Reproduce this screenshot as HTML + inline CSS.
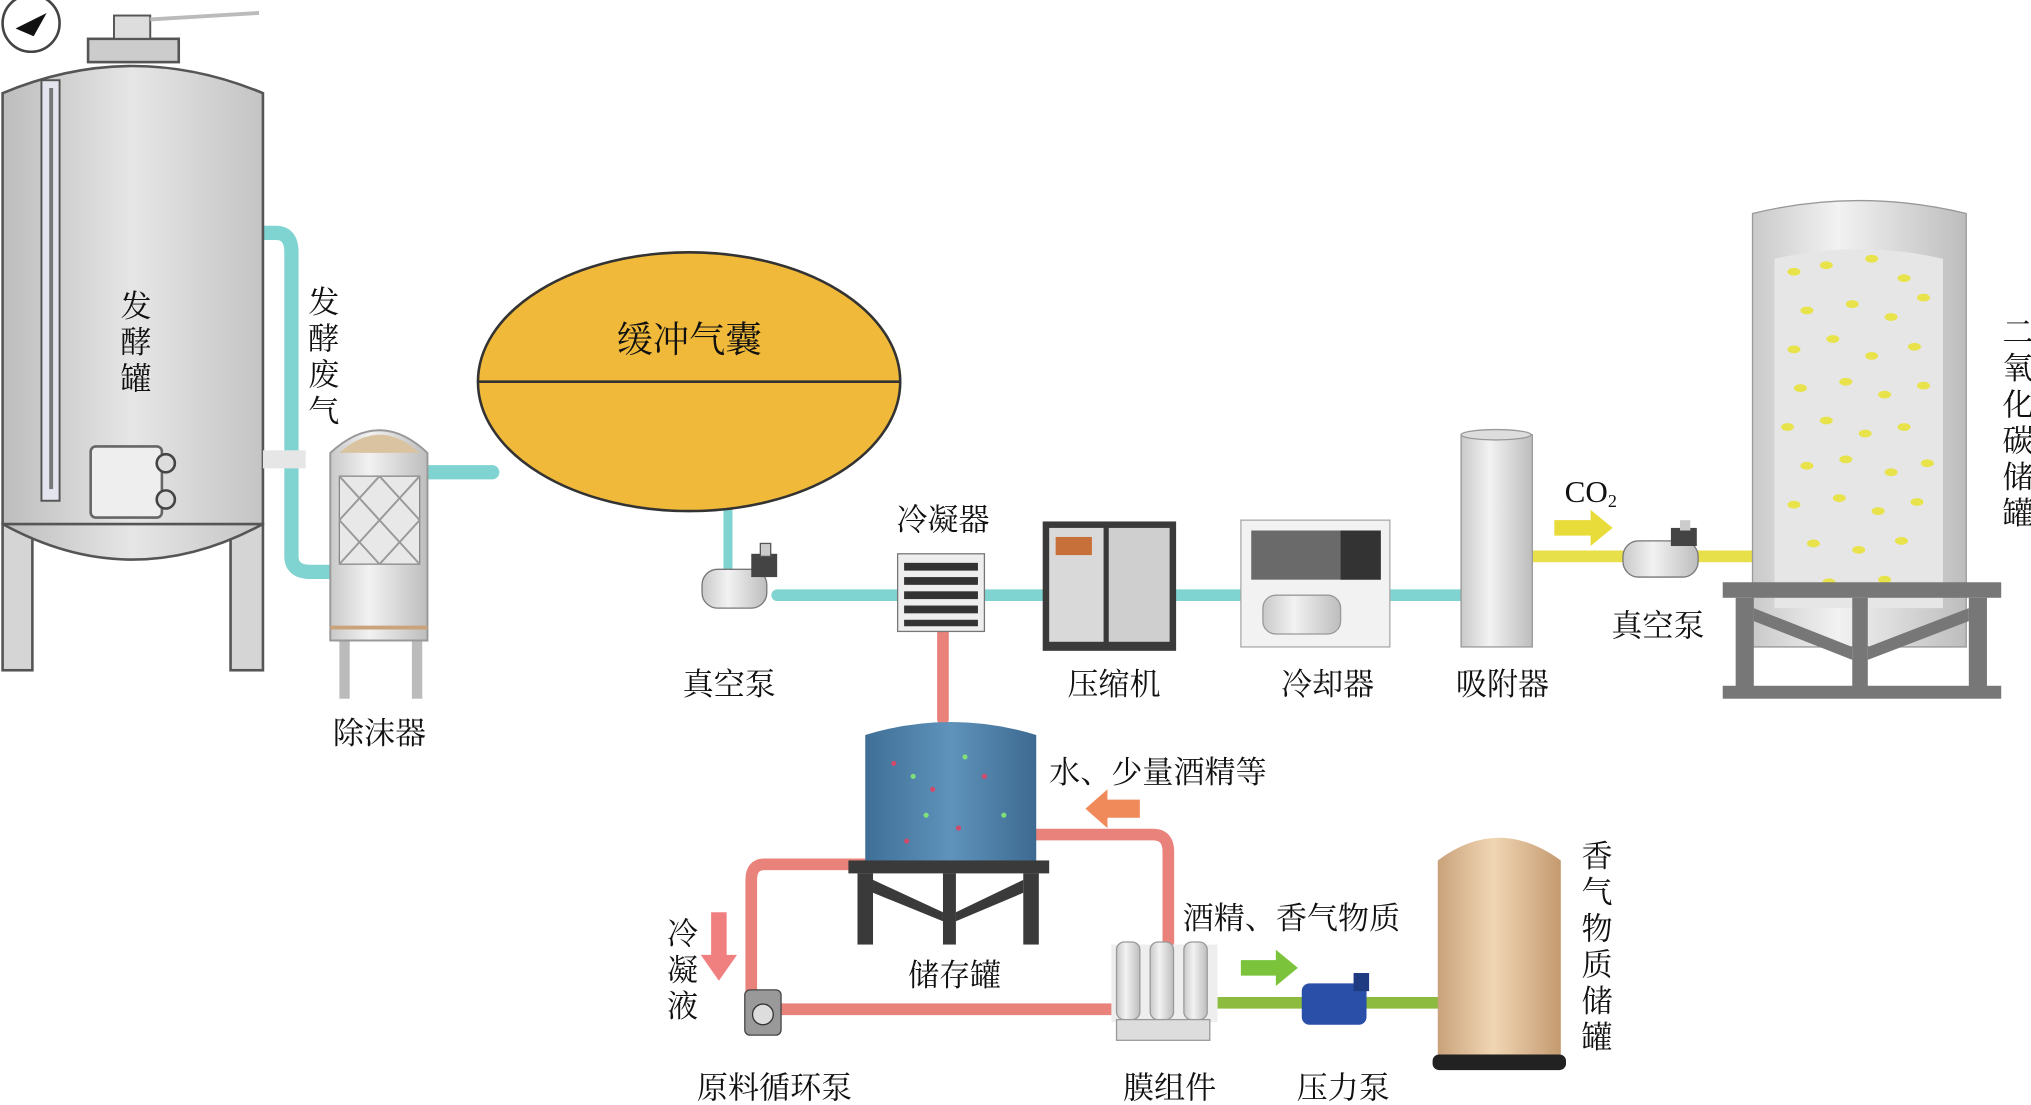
<!DOCTYPE html>
<html><head><meta charset="utf-8"><style>
html,body{margin:0;padding:0;background:#fff;}
svg{display:block;}
text{font-family:"Liberation Serif","Noto Serif CJK SC","Noto Sans CJK SC",serif;font-size:24px;fill:#111;}
</style></head><body>
<svg width="2031" height="1105" viewBox="0 0 1568 854" preserveAspectRatio="none" xmlns="http://www.w3.org/2000/svg">
<defs>
<linearGradient id="gt" x1="0" x2="1"><stop offset="0" stop-color="#bdbdbd"/><stop offset="0.5" stop-color="#e6e6e6"/><stop offset="1" stop-color="#c4c4c4"/></linearGradient>
<linearGradient id="gc" x1="0" x2="1"><stop offset="0" stop-color="#c9c9c9"/><stop offset="0.4" stop-color="#f2f2f2"/><stop offset="1" stop-color="#bdbdbd"/></linearGradient>
<linearGradient id="gb" x1="0" x2="1"><stop offset="0" stop-color="#3f6f96"/><stop offset="0.5" stop-color="#5f93bb"/><stop offset="1" stop-color="#3d6a90"/></linearGradient>
<linearGradient id="ga" x1="0" x2="1"><stop offset="0" stop-color="#c9a27a"/><stop offset="0.45" stop-color="#f0d6b4"/><stop offset="1" stop-color="#c49a70"/></linearGradient>
</defs>
<g fill="none" stroke-linecap="round" stroke-linejoin="round">
<!-- teal pipes -->
<path d="M203 180 H213 Q225 180 225 195 V430 Q225 442 240 442 H258" stroke="#7fd3d0" stroke-width="11"/>
<path d="M330 365 H380" stroke="#7fd3d0" stroke-width="11"/>
<path d="M562 390 V440" stroke="#7fd3d0" stroke-width="7"/>
<path d="M600 460 H1130" stroke="#7fd3d0" stroke-width="9"/>
<!-- yellow -->
<path d="M1183 430 H1355" stroke="#e7e04a" stroke-width="9"/>
<!-- red pipes -->
<path d="M728 487 V556" stroke="#e8827a" stroke-width="9"/>
<path d="M668 668 H590 Q580 668 580 680 V770" stroke="#e8827a" stroke-width="9"/>
<path d="M600 780 H860" stroke="#e8827a" stroke-width="9"/>
<path d="M800 645 H890 Q902 645 902 658 V730" stroke="#e8827a" stroke-width="9"/>
<!-- green -->
<path d="M940 775 H1112" stroke="#8dbb3f" stroke-width="9"/>
</g>
<!-- fermentation tank -->
<rect x="2" y="405" width="23" height="113" fill="#d5d5d5" stroke="#555" stroke-width="2"/>
<rect x="178" y="405" width="25" height="113" fill="#d5d5d5" stroke="#555" stroke-width="2"/>
<path d="M2 72 Q102 30 203 72 V405 Q102 460 2 405 Z" fill="url(#gt)" stroke="#555" stroke-width="2"/>
<line x1="2" y1="405" x2="203" y2="405" stroke="#555" stroke-width="2"/>
<rect x="68" y="30" width="70" height="18" fill="#ccc" stroke="#555" stroke-width="2"/>
<rect x="88" y="12" width="28" height="18" fill="#ddd" stroke="#555" stroke-width="1.5"/>
<line x1="116" y1="15" x2="200" y2="10" stroke="#bbb" stroke-width="3"/>
<circle cx="24" cy="18" r="22" fill="#fff" stroke="#444" stroke-width="2"/>
<path d="M12 22 L36 10 L26 28 Z" fill="#111"/>
<rect x="32" y="62" width="14" height="325" fill="#e4e4ef" stroke="#555" stroke-width="1.5"/>
<rect x="38" y="68" width="3" height="310" fill="#777"/>
<rect x="70" y="345" width="55" height="55" rx="4" fill="#eee" stroke="#666" stroke-width="2"/>
<circle cx="128" cy="358" r="7" fill="#ddd" stroke="#444" stroke-width="2"/>
<circle cx="128" cy="386" r="7" fill="#ddd" stroke="#444" stroke-width="2"/>
<rect x="203" y="348" width="33" height="14" fill="#e6e6e6"/>
<!-- demister -->
<rect x="262" y="495" width="8" height="45" fill="#bbb"/><rect x="318" y="495" width="8" height="45" fill="#bbb"/>
<path d="M255 350 Q293 315 330 350 V495 H255 Z" fill="url(#gc)" stroke="#999" stroke-width="1.5"/>
<path d="M262 350 Q293 322 324 350 Z" fill="#d9c3a0"/>
<rect x="262" y="368" width="62" height="68" fill="#e8e8e8" stroke="#888"/>
<path d="M262 368 L324 436 M293 368 L324 402 M262 402 L293 436 M324 368 L262 436 M293 368 L262 402 M324 402 L293 436" stroke="#999" stroke-width="1.5"/>
<line x1="255" y1="485" x2="330" y2="485" stroke="#c9a47a" stroke-width="3"/>
<!-- buffer bag -->
<ellipse cx="532" cy="295" rx="163" ry="100" fill="#f0b93a" stroke="#333" stroke-width="2"/>
<line x1="369" y1="295" x2="695" y2="295" stroke="#333" stroke-width="2"/>
<!-- vacuum pump 1 -->
<rect x="542" y="440" width="50" height="30" rx="12" fill="url(#gc)" stroke="#777"/>
<rect x="580" y="428" width="20" height="18" fill="#444"/><rect x="587" y="420" width="8" height="10" fill="#ccc" stroke="#555"/>
<!-- condenser -->
<rect x="693" y="428" width="67" height="60" fill="#eee" stroke="#777"/>
<g fill="#333"><rect x="698" y="435" width="57" height="6"/><rect x="698" y="446" width="57" height="6"/><rect x="698" y="457" width="57" height="6"/><rect x="698" y="468" width="57" height="6"/><rect x="698" y="479" width="57" height="5"/></g>
<!-- compressor -->
<rect x="805" y="403" width="103" height="100" fill="#3a3a3a"/>
<rect x="810" y="408" width="42" height="88" fill="#d9d9d9"/><rect x="856" y="408" width="47" height="88" fill="#cfcfcf"/>
<rect x="815" y="415" width="28" height="14" fill="#c8703a"/>
<!-- cooler -->
<rect x="958" y="402" width="115" height="98" fill="#f2f2f2" stroke="#aaa"/>
<rect x="966" y="410" width="100" height="38" fill="#6a6a6a"/>
<rect x="1035" y="410" width="31" height="38" fill="#333"/>
<rect x="975" y="460" width="60" height="30" rx="10" fill="url(#gc)" stroke="#999"/>
<!-- adsorber -->
<rect x="1128" y="336" width="55" height="164" fill="url(#gc)" stroke="#999"/>
<ellipse cx="1155" cy="336" rx="27" ry="4" fill="#ddd" stroke="#999"/>
<!-- CO2 arrow -->
<path d="M1200 402 H1228 V394 L1245 408 L1228 422 V414 H1200 Z" fill="#e8dc3a"/>
<!-- vacuum pump 2 -->
<rect x="1253" y="418" width="58" height="28" rx="12" fill="url(#gc)" stroke="#777"/>
<rect x="1290" y="408" width="20" height="14" fill="#444"/><rect x="1297" y="402" width="8" height="8" fill="#ccc"/>
<!-- CO2 tank -->
<path d="M1353 165 Q1435 145 1518 165 V500 H1353 Z" fill="url(#gc)" stroke="#999"/>
<path d="M1370 200 Q1435 185 1500 200 V470 H1370 Z" fill="#e6e6e6"/>
<g fill="#e8e34a">
<ellipse cx="1385" cy="210" rx="5" ry="3"/><ellipse cx="1410" cy="205" rx="5" ry="3"/><ellipse cx="1445" cy="200" rx="5" ry="3"/><ellipse cx="1470" cy="215" rx="5" ry="3"/>
<ellipse cx="1395" cy="240" rx="5" ry="3"/><ellipse cx="1430" cy="235" rx="5" ry="3"/><ellipse cx="1460" cy="245" rx="5" ry="3"/><ellipse cx="1485" cy="230" rx="5" ry="3"/>
<ellipse cx="1385" cy="270" rx="5" ry="3"/><ellipse cx="1415" cy="262" rx="5" ry="3"/><ellipse cx="1445" cy="275" rx="5" ry="3"/><ellipse cx="1478" cy="268" rx="5" ry="3"/>
<ellipse cx="1390" cy="300" rx="5" ry="3"/><ellipse cx="1425" cy="295" rx="5" ry="3"/><ellipse cx="1455" cy="305" rx="5" ry="3"/><ellipse cx="1485" cy="298" rx="5" ry="3"/>
<ellipse cx="1380" cy="330" rx="5" ry="3"/><ellipse cx="1410" cy="325" rx="5" ry="3"/><ellipse cx="1440" cy="335" rx="5" ry="3"/><ellipse cx="1470" cy="330" rx="5" ry="3"/>
<ellipse cx="1395" cy="360" rx="5" ry="3"/><ellipse cx="1425" cy="355" rx="5" ry="3"/><ellipse cx="1460" cy="365" rx="5" ry="3"/><ellipse cx="1488" cy="358" rx="5" ry="3"/>
<ellipse cx="1385" cy="390" rx="5" ry="3"/><ellipse cx="1420" cy="385" rx="5" ry="3"/><ellipse cx="1450" cy="395" rx="5" ry="3"/><ellipse cx="1480" cy="388" rx="5" ry="3"/>
<ellipse cx="1400" cy="420" rx="5" ry="3"/><ellipse cx="1435" cy="425" rx="5" ry="3"/><ellipse cx="1468" cy="418" rx="5" ry="3"/><ellipse cx="1412" cy="450" rx="5" ry="3"/><ellipse cx="1455" cy="448" rx="5" ry="3"/>
</g>
<g fill="#777">
<rect x="1330" y="450" width="215" height="12"/>
<rect x="1340" y="462" width="14" height="70"/><rect x="1520" y="462" width="14" height="70"/><rect x="1430" y="462" width="12" height="70"/>
<rect x="1330" y="530" width="215" height="10"/>
<path d="M1354 470 L1430 500 L1430 510 L1354 480 Z M1520 470 L1442 500 L1442 510 L1520 480 Z"/>
</g>
<!-- storage tank -->
<path d="M668 568 Q734 548 800 568 V665 H668 Z" fill="url(#gb)"/>
<g fill="#d04a6a"><circle cx="690" cy="590" r="2"/><circle cx="720" cy="610" r="2"/><circle cx="760" cy="600" r="2"/><circle cx="740" cy="640" r="2"/><circle cx="700" cy="650" r="2"/></g>
<g fill="#7fe07a"><circle cx="705" cy="600" r="2"/><circle cx="745" cy="585" r="2"/><circle cx="775" cy="630" r="2"/><circle cx="715" cy="630" r="2"/></g>
<g fill="#3a3a3a">
<rect x="655" y="665" width="155" height="10"/>
<rect x="662" y="675" width="12" height="55"/><rect x="790" y="675" width="12" height="55"/><rect x="728" y="675" width="10" height="55"/>
<path d="M674 680 L728 705 V712 L674 690 Z M790 680 L738 705 V712 L790 690 Z"/>
</g>
<!-- orange arrow -->
<path d="M880 618 H855 V610 L838 625 L855 640 V632 H880 Z" fill="#f08a5a"/>
<!-- pink down arrow -->
<path d="M549 705 H561 V738 H569 L555 758 L541 738 H549 Z" fill="#f08080"/>
<!-- recirc pump -->
<rect x="575" y="765" width="28" height="35" rx="4" fill="#999" stroke="#444"/>
<circle cx="589" cy="784" r="8" fill="#ddd" stroke="#333"/>
<!-- membrane -->
<rect x="858" y="730" width="82" height="60" fill="#eee"/>
<g fill="url(#gc)" stroke="#999"><rect x="862" y="728" width="18" height="60" rx="6"/><rect x="888" y="728" width="18" height="60" rx="6"/><rect x="914" y="728" width="18" height="60" rx="6"/></g>
<rect x="862" y="788" width="72" height="16" fill="#ddd" stroke="#999"/>
<!-- green arrow -->
<path d="M958 742 H985 V734 L1002 748 L985 762 V754 H958 Z" fill="#7bc33a"/>
<!-- pressure pump -->
<rect x="1005" y="760" width="50" height="32" rx="6" fill="#2a4fa8"/>
<rect x="1045" y="752" width="12" height="14" fill="#1e3a80"/>
<!-- aroma tank -->
<path d="M1110 665 Q1157 630 1205 665 V815 Q1157 830 1110 815 Z" fill="url(#ga)"/>
<rect x="1106" y="815" width="103" height="12" rx="5" fill="#222"/>
<!-- labels -->
<text x="105" y="245" text-anchor="middle">发</text><text x="105" y="273" text-anchor="middle">酵</text><text x="105" y="301" text-anchor="middle">罐</text>
<text x="250" y="242" text-anchor="middle">发</text><text x="250" y="270" text-anchor="middle">酵</text><text x="250" y="298" text-anchor="middle">废</text><text x="250" y="326" text-anchor="middle">气</text>
<text x="293" y="575" text-anchor="middle">除沫器</text>
<text x="532" y="272" text-anchor="middle" style="font-size:28px">缓冲气囊</text>
<text x="563" y="537" text-anchor="middle">真空泵</text>
<text x="728" y="410" text-anchor="middle">冷凝器</text>
<text x="860" y="537" text-anchor="middle">压缩机</text>
<text x="1025" y="537" text-anchor="middle">冷却器</text>
<text x="1160" y="537" text-anchor="middle">吸附器</text>
<text x="1208" y="388">CO<tspan style="font-size:14px" dy="4">2</tspan></text>
<text x="1280" y="492" text-anchor="middle">真空泵</text>
<g text-anchor="middle"><text x="1558" y="265">二</text><text x="1558" y="293">氧</text><text x="1558" y="321">化</text><text x="1558" y="349">碳</text><text x="1558" y="377">储</text><text x="1558" y="405">罐</text></g>
<text x="895" y="605" text-anchor="start" dx="-85">水、少量酒精等</text>
<text x="737" y="762" text-anchor="middle">储存罐</text>
<g text-anchor="middle"><text x="527" y="730">冷</text><text x="527" y="758">凝</text><text x="527" y="786">液</text></g>
<text x="598" y="849" text-anchor="middle">原料循环泵</text>
<text x="997" y="718" text-anchor="middle">酒精、香气物质</text>
<text x="903" y="849" text-anchor="middle">膜组件</text>
<text x="1037" y="849" text-anchor="middle">压力泵</text>
<g text-anchor="middle"><text x="1233" y="670">香</text><text x="1233" y="698">气</text><text x="1233" y="726">物</text><text x="1233" y="754">质</text><text x="1233" y="782">储</text><text x="1233" y="810">罐</text></g>
</svg>
</body></html>
